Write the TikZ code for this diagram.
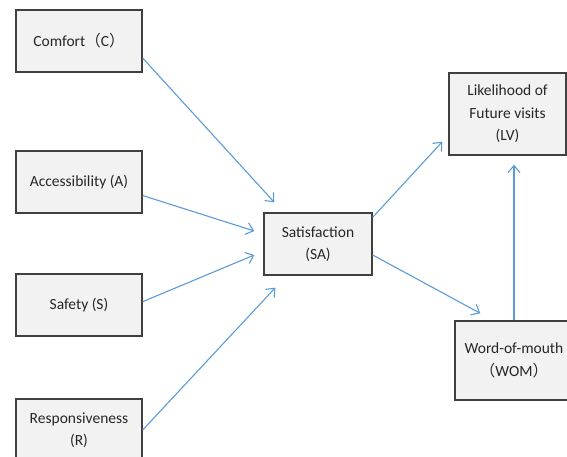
\documentclass[tikz,border=0pt]{standalone}
\usepackage{fontspec}
\setmainfont{Carlito}
\newfontfamily\cjk{Noto Sans CJK SC}
\usetikzlibrary{arrows.meta}
\definecolor{linkblue}{RGB}{91,155,213}
\definecolor{boxline}{RGB}{64,64,64}
\definecolor{boxfill}{RGB}{242,242,242}
\begin{document}
\begin{tikzpicture}[
    x=1pt,y=-1pt,
    every node/.style={font=\fontsize{15.5}{22.5}\selectfont, text=black!85},
    box/.style={draw=boxline, fill=boxfill, line width=1.4pt, align=center, inner sep=0pt},
    factor/.style={box, minimum width=126pt, minimum height=62pt},
    link/.style={->, >={Straight Barb[length=7pt,width=12pt]}, draw=linkblue, line width=1.1pt}
]
    \useasboundingbox (0,0) rectangle (567,457);

    \node[factor] (C) at (79,41) {Comfort{\cjk （}C{\cjk ）}};
    \node[factor] (A) at (79,182) {Accessibility (A)};
    \node[factor] (S) at (79,305) {Safety (S)};
    \node[factor] (R) at (79,430) {Responsiveness\\(R)};

    \node[box, minimum width=108pt, minimum height=62pt] (SA) at (318,244) {Satisfaction\\(SA)};
    \node[box, minimum width=117pt, minimum height=82pt] (LV) at (507.5,114) {Likelihood of\\Future visits\\(LV)};
    \node[box, minimum width=118pt, minimum height=79pt] (WOM) at (514,360.5) {Word-of-mouth\\{\cjk （}WOM{\cjk ）}};

    \draw[link] (C.-15) -- ([xshift=11pt,yshift=10pt]SA.north west);
    \draw[link] (A.-12) -- ([xshift=-9pt,yshift=13pt]SA.west);
    \draw[link] (S.3) -- ([xshift=-9pt,yshift=-11pt]SA.west);
    \draw[link] (R.east) -- ([xshift=12pt,yshift=-12pt]SA.south west);

    \draw[link] ([yshift=-5pt]SA.north east) -- ([xshift=-6pt,yshift=14pt]LV.south west);
    \draw[link] ([yshift=-11pt]SA.east) -- ([xshift=26pt,yshift=7pt]WOM.north west);
    \draw[link, shorten >=9pt] (WOM.north) -- (WOM.north |- LV.south);
\end{tikzpicture}
\end{document}
